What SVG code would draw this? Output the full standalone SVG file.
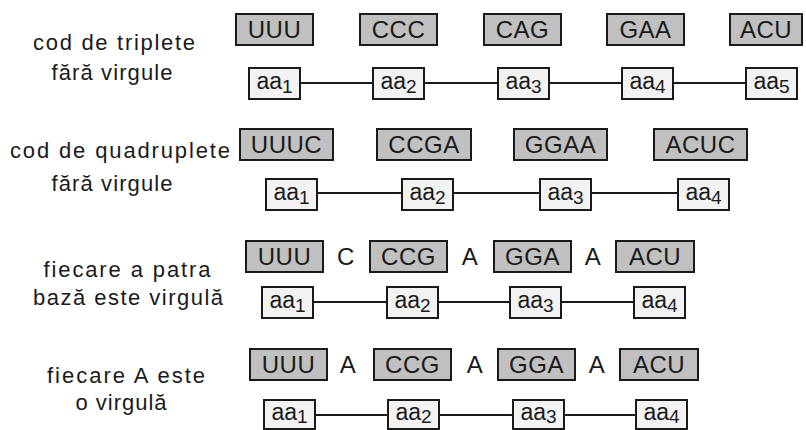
<svg xmlns="http://www.w3.org/2000/svg" width="806" height="430" viewBox="0 0 806 430">
<style>
.bg{fill:#ffffff}
.cb{fill:#c0c0c0;stroke:#1a1a1a;stroke-width:2}
.ab{fill:#f2f2f2;stroke:#1a1a1a;stroke-width:2}
.ct{font-family:"Liberation Sans",Arial,sans-serif;font-size:24px;fill:#1a1a1a;text-anchor:middle;letter-spacing:0.5px}
.at{font-family:"Liberation Sans",Arial,sans-serif;font-size:23px;fill:#1a1a1a;text-anchor:middle}
.sub{font-size:19px}
.lb{font-family:"Liberation Sans",Arial,sans-serif;font-size:22px;fill:#1a1a1a;text-anchor:middle}
.cn{stroke:#1a1a1a;stroke-width:1.8;fill:none}
</style>
<rect class="bg" x="0" y="0" width="806" height="430"/>

<!-- row labels -->
<g id="label1">
<text class="lb" x="114" y="50" textLength="162" lengthAdjust="spacing">cod de triplete</text>
<text class="lb" x="112" y="80" textLength="121" lengthAdjust="spacing">fără virgule</text>
</g>
<g id="label2">
<text class="lb" x="120" y="158" textLength="220" lengthAdjust="spacing">cod de quadruplete</text>
<text class="lb" x="112" y="191" textLength="121" lengthAdjust="spacing">fără virgule</text>
</g>
<g id="label3">
<text class="lb" x="127" y="277" textLength="167" lengthAdjust="spacing">fiecare a patra</text>
<text class="lb" x="128" y="305" textLength="190" lengthAdjust="spacing">bază este virgulă</text>
</g>
<g id="label4">
<text class="lb" x="126" y="383" textLength="158" lengthAdjust="spacing">fiecare A este</text>
<text class="lb" x="121" y="410" textLength="91" lengthAdjust="spacing">o virgulă</text>
</g>

<!-- connectors -->
<g id="connectors">
<line class="cn" x1="300" y1="83" x2="373" y2="83"/>
<line class="cn" x1="424" y1="83" x2="498" y2="83"/>
<line class="cn" x1="549" y1="83" x2="622" y2="83"/>
<line class="cn" x1="673" y1="83" x2="746" y2="83"/>

<line class="cn" x1="317" y1="193" x2="402" y2="193"/>
<line class="cn" x1="453" y1="193" x2="540" y2="193"/>
<line class="cn" x1="591" y1="193" x2="678" y2="193"/>

<line class="cn" x1="313" y1="302" x2="387" y2="302"/>
<line class="cn" x1="438" y1="302" x2="510" y2="302"/>
<line class="cn" x1="561" y1="302" x2="634" y2="302"/>

<line class="cn" x1="315" y1="415" x2="388" y2="415"/>
<line class="cn" x1="439" y1="415" x2="513" y2="415"/>
<line class="cn" x1="564" y1="415" x2="636" y2="415"/>
</g>

<!-- row 1 -->
<g id="r1c1"><rect class="cb" x="236" y="14" width="77" height="31"/><text class="ct" x="274.5" y="38">UUU</text></g>
<g id="r1c2"><rect class="cb" x="360" y="14" width="77" height="31"/><text class="ct" x="398.5" y="38">CCC</text></g>
<g id="r1c3"><rect class="cb" x="484" y="14" width="77" height="31"/><text class="ct" x="522.5" y="38">CAG</text></g>
<g id="r1c4"><rect class="cb" x="607" y="14" width="77" height="31"/><text class="ct" x="645.5" y="38">GAA</text></g>
<g id="r1c5"><rect class="cb" x="730" y="14" width="72" height="31"/><text class="ct" x="766" y="38">ACU</text></g>

<g id="r1a1"><rect class="ab" x="249" y="68" width="51" height="31"/><text class="at" x="274.5" y="89">aa<tspan class="sub" dy="4">1</tspan></text></g>
<g id="r1a2"><rect class="ab" x="373" y="68" width="51" height="31"/><text class="at" x="398.5" y="89">aa<tspan class="sub" dy="4">2</tspan></text></g>
<g id="r1a3"><rect class="ab" x="498" y="68" width="51" height="31"/><text class="at" x="523.5" y="89">aa<tspan class="sub" dy="4">3</tspan></text></g>
<g id="r1a4"><rect class="ab" x="622" y="68" width="51" height="31"/><text class="at" x="647.5" y="89">aa<tspan class="sub" dy="4">4</tspan></text></g>
<g id="r1a5"><rect class="ab" x="746" y="68" width="51" height="31"/><text class="at" x="771.5" y="89">aa<tspan class="sub" dy="4">5</tspan></text></g>

<!-- row 2 -->
<g id="r2c1"><rect class="cb" x="240" y="129" width="93" height="31"/><text class="ct" x="286.5" y="153">UUUC</text></g>
<g id="r2c2"><rect class="cb" x="377" y="129" width="94" height="31"/><text class="ct" x="424" y="153">CCGA</text></g>
<g id="r2c3"><rect class="cb" x="514" y="129" width="93" height="31"/><text class="ct" x="560.5" y="153">GGAA</text></g>
<g id="r2c4"><rect class="cb" x="654" y="129" width="93" height="31"/><text class="ct" x="700.5" y="153">ACUC</text></g>

<g id="r2a1"><rect class="ab" x="266" y="179" width="51" height="31"/><text class="at" x="291.5" y="200">aa<tspan class="sub" dy="4">1</tspan></text></g>
<g id="r2a2"><rect class="ab" x="402" y="179" width="51" height="31"/><text class="at" x="427.5" y="200">aa<tspan class="sub" dy="4">2</tspan></text></g>
<g id="r2a3"><rect class="ab" x="540" y="179" width="51" height="31"/><text class="at" x="565.5" y="200">aa<tspan class="sub" dy="4">3</tspan></text></g>
<g id="r2a4"><rect class="ab" x="678" y="179" width="51" height="31"/><text class="at" x="703.5" y="200">aa<tspan class="sub" dy="4">4</tspan></text></g>

<!-- row 3 -->
<g id="r3c1"><rect class="cb" x="246" y="241" width="77" height="31"/><text class="ct" x="284.5" y="265">UUU</text></g>
<g id="r3s1"><text class="ct" x="346" y="265">C</text></g>
<g id="r3c2"><rect class="cb" x="370" y="241" width="77" height="31"/><text class="ct" x="408.5" y="265">CCG</text></g>
<g id="r3s2"><text class="ct" x="470" y="265">A</text></g>
<g id="r3c3"><rect class="cb" x="494" y="241" width="77" height="31"/><text class="ct" x="532.5" y="265">GGA</text></g>
<g id="r3s3"><text class="ct" x="593" y="265">A</text></g>
<g id="r3c4"><rect class="cb" x="616" y="241" width="78" height="31"/><text class="ct" x="655" y="265">ACU</text></g>

<g id="r3a1"><rect class="ab" x="262" y="287" width="51" height="31"/><text class="at" x="287.5" y="308">aa<tspan class="sub" dy="4">1</tspan></text></g>
<g id="r3a2"><rect class="ab" x="387" y="287" width="51" height="31"/><text class="at" x="412.5" y="308">aa<tspan class="sub" dy="4">2</tspan></text></g>
<g id="r3a3"><rect class="ab" x="510" y="287" width="51" height="31"/><text class="at" x="535.5" y="308">aa<tspan class="sub" dy="4">3</tspan></text></g>
<g id="r3a4"><rect class="ab" x="634" y="287" width="51" height="31"/><text class="at" x="659.5" y="308">aa<tspan class="sub" dy="4">4</tspan></text></g>

<!-- row 4 -->
<g id="r4c1"><rect class="cb" x="250" y="349" width="77" height="31"/><text class="ct" x="288.5" y="373">UUU</text></g>
<g id="r4s1"><text class="ct" x="348" y="373">A</text></g>
<g id="r4c2"><rect class="cb" x="374" y="349" width="77" height="31"/><text class="ct" x="412.5" y="373">CCG</text></g>
<g id="r4s2"><text class="ct" x="475" y="373">A</text></g>
<g id="r4c3"><rect class="cb" x="498" y="349" width="77" height="31"/><text class="ct" x="536.5" y="373">GGA</text></g>
<g id="r4s3"><text class="ct" x="597" y="373">A</text></g>
<g id="r4c4"><rect class="cb" x="620" y="349" width="78" height="31"/><text class="ct" x="659" y="373">ACU</text></g>

<g id="r4a1"><rect class="ab" x="264" y="400" width="51" height="29"/><text class="at" x="289.5" y="420">aa<tspan class="sub" dy="3">1</tspan></text></g>
<g id="r4a2"><rect class="ab" x="388" y="400" width="51" height="29"/><text class="at" x="413.5" y="420">aa<tspan class="sub" dy="3">2</tspan></text></g>
<g id="r4a3"><rect class="ab" x="513" y="400" width="51" height="29"/><text class="at" x="538.5" y="420">aa<tspan class="sub" dy="3">3</tspan></text></g>
<g id="r4a4"><rect class="ab" x="636" y="400" width="51" height="29"/><text class="at" x="661.5" y="420">aa<tspan class="sub" dy="3">4</tspan></text></g>
</svg>
